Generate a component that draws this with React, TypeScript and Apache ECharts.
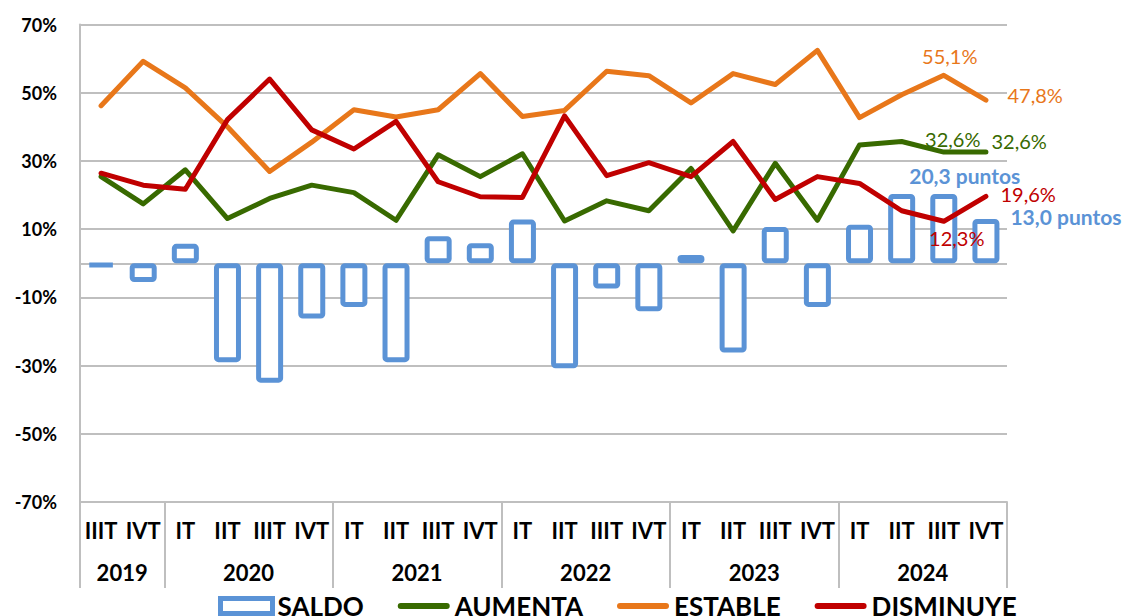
import React, { useEffect, useRef } from "react";
import * as echarts from "echarts";

const quarterLabels = [
  "IIIT", "IVT",
  "IT", "IIT", "IIIT", "IVT",
  "IT", "IIT", "IIIT", "IVT",
  "IT", "IIT", "IIIT", "IVT",
  "IT", "IIT", "IIIT", "IVT",
  "IT", "IIT", "IIIT", "IVT",
];
const years = ["2019", "2020", "2021", "2022", "2023", "2024"];
const quartersPerYear = [2, 4, 4, 4, 4, 4];
const yTicks = ["-70%", "-50%", "-30%", "-10%", "10%", "30%", "50%", "70%"];

const saldo = [-1.0, -5.5, 5.7, -29.0, -35.0, -16.2, -12.8, -29.0, 7.9, 5.9, 12.8, -30.8, -7.4, -14.1, 2.4, -26.2, 10.6, -12.8, 11.3, 20.3, 20.3, 13.0];
const aumenta = [25.4, 17.4, 27.4, 13.1, 19.0, 22.9, 20.7, 12.6, 31.8, 25.4, 32.1, 12.4, 18.3, 15.4, 27.8, 9.5, 29.3, 12.6, 34.7, 35.7, 32.6, 32.6];
const estable = [46.2, 59.2, 51.4, 40.0, 26.9, 35.5, 45.0, 42.9, 45.0, 55.6, 43.0, 44.8, 56.3, 55.0, 47.0, 55.6, 52.4, 62.4, 42.7, 49.4, 55.1, 47.8];
const disminuye = [26.4, 22.9, 21.7, 42.1, 54.0, 39.1, 33.5, 41.6, 23.9, 19.5, 19.3, 43.2, 25.7, 29.5, 25.4, 35.7, 18.7, 25.4, 23.4, 15.4, 12.3, 19.6];

const BLUE = "#5B93D6";
const GREEN = "#386A00";
const ORANGE = "#E8771A";
const RED = "#C00000";
const GRID = "#BFBFBF";
const FONT = "Lato";

const fmt = (v: number) => v.toFixed(1).replace(".", ",");

const LINE_ICON = "path://M0,0M52,15M3,4.5L49,4.5A3,3,0,0,1,49,10.5L3,10.5A3,3,0,0,1,3,4.5Z";

export default function App() {
  const ref = useRef<HTMLDivElement>(null);
  useEffect(() => {
    if (!ref.current) return;
    const chart = echarts.init(ref.current, null, { renderer: "svg" });

    const boundaries: number[] = [0];
    const centers: number[] = [];
    quartersPerYear.forEach((n) => {
      const start = boundaries[boundaries.length - 1];
      centers.push(start + n / 2);
      boundaries.push(start + n);
    });
    const total = boundaries[boundaries.length - 1];

    const labelFor = (
      series: number[],
      idx: number,
      position: string,
      offset: number[],
      color: string,
      text: string
    ) => ({
      value: series[idx],
      label: {
        show: true,
        position,
        offset,
        color,
        fontFamily: FONT,
        fontSize: 20,
        formatter: () => text,
      },
    });

    const lineData = (series: number[], labels: Record<number, any>) =>
      series.map((v, i) => (labels[i] ? labels[i] : v));

    const saldoData = saldo.map((v, i) => {
      if (i === saldo.length - 2)
        return {
          value: v,
          label: {
            show: true, position: "top", offset: [21, -3], color: BLUE, fontFamily: FONT,
            fontSize: 21, fontWeight: "bold", formatter: () => fmt(v) + " puntos",
          },
        };
      if (i === saldo.length - 1)
        return {
          value: v,
          label: {
            show: true, position: "right", offset: [6, -25], color: BLUE, fontFamily: FONT,
            fontSize: 21, fontWeight: "bold", formatter: () => fmt(v) + " puntos",
          },
        };
      return v;
    });

    const n = quarterLabels.length;
    const lineCommon = {
      type: "line",
      symbol: "circle",
      symbolSize: 1,
      showSymbol: true,
      showAllSymbol: true,
      xAxisIndex: 0,
      yAxisIndex: 0,
      z: 3,
    };

    chart.setOption({
      animation: false,
      backgroundColor: "#ffffff",
      textStyle: { fontFamily: FONT },
      grid: { left: 80, right: 123, top: 24.5, bottom: 114, containLabel: false },
      legend: {
        left: 213,
        top: 588,
        itemWidth: 52,
        itemHeight: 15,
        itemGap: 34,
        textStyle: { fontFamily: FONT, fontSize: 26, fontWeight: "bold", color: "#000" },
        data: [
          { name: "SALDO", icon: "rect", itemStyle: { color: "#ffffff", borderColor: BLUE, borderWidth: 5 } },
          { name: "AUMENTA", icon: LINE_ICON, itemStyle: { color: GREEN, borderWidth: 0 } },
          { name: "ESTABLE", icon: LINE_ICON, itemStyle: { color: ORANGE, borderWidth: 0 } },
          { name: "DISMINUYE", icon: LINE_ICON, itemStyle: { color: RED, borderWidth: 0 } },
        ],
      },
      xAxis: [
        {
          type: "category",
          data: quarterLabels,
          position: "bottom",
          boundaryGap: true,
          axisLine: { show: true, onZero: false, lineStyle: { color: GRID, width: 2 } },
          axisTick: { show: false },
          axisLabel: {
            interval: 0, margin: 17, color: "#000", fontFamily: FONT,
            fontSize: 22, fontWeight: "bold",
          },
          splitLine: { show: false },
        },
        {
          type: "value",
          min: 0,
          max: total,
          position: "bottom",
          axisLine: { show: false, onZero: false },
          splitLine: { show: false },
          axisTick: {
            show: true, length: 86, customValues: boundaries,
            lineStyle: { color: GRID, width: 2 },
          },
          axisLabel: {
            show: true, margin: 59, customValues: centers, color: "#000",
            fontFamily: FONT, fontSize: 22, fontWeight: "bold",
            formatter: (v: number) => {
              const k = centers.indexOf(v);
              return k >= 0 ? years[k] : "";
            },
          },
        },
      ],
      yAxis: {
        type: "value",
        min: -70,
        max: 70,
        interval: 20,
        axisLine: { show: true, lineStyle: { color: GRID, width: 2 } },
        axisTick: { show: false },
        splitLine: { show: true, lineStyle: { color: GRID, width: 2 } },
        axisLabel: {
          margin: 23, color: "#000", fontFamily: FONT, fontSize: 18, fontWeight: "bold",
          formatter: (v: number) => {
            const s = Math.round(v) + "%";
            return yTicks.indexOf(s) >= 0 ? s : "";
          },
        },
      },
      series: [
        {
          name: "SALDO",
          type: "bar",
          xAxisIndex: 0,
          yAxisIndex: 0,
          barWidth: 27,
          data: saldoData,
          itemStyle: { color: "#ffffff", borderColor: BLUE, borderWidth: 5, borderRadius: 2 },
          z: 2,
          markLine: {
            silent: true,
            symbol: ["none", "none"],
            label: { show: false },
            lineStyle: { color: GRID, width: 2, type: "solid" },
            data: [{ yAxis: 0 }],
            z: 2,
          },
        },
        {
          ...lineCommon,
          name: "AUMENTA",
          data: lineData(aumenta, {
            [n - 2]: labelFor(aumenta, n - 2, "top", [9, 2], GREEN, fmt(aumenta[n - 2]) + "%"),
            [n - 1]: labelFor(aumenta, n - 1, "right", [0, -11], GREEN, fmt(aumenta[n - 1]) + "%"),
          }),
          itemStyle: { color: GREEN },
          lineStyle: { color: GREEN, width: 5, cap: "round", join: "round" },
        },
        {
          ...lineCommon,
          name: "ESTABLE",
          data: lineData(estable, {
            [n - 2]: labelFor(estable, n - 2, "top", [6, -4], ORANGE, fmt(estable[n - 2]) + "%"),
            [n - 1]: labelFor(estable, n - 1, "right", [16, -5], ORANGE, fmt(estable[n - 1]) + "%"),
          }),
          itemStyle: { color: ORANGE },
          lineStyle: { color: ORANGE, width: 5, cap: "round", join: "round" },
        },
        {
          ...lineCommon,
          name: "DISMINUYE",
          data: lineData(disminuye, {
            [n - 2]: labelFor(disminuye, n - 2, "bottom", [13, 1], RED, fmt(disminuye[n - 2]) + "%"),
            [n - 1]: labelFor(disminuye, n - 1, "right", [9, -2], RED, fmt(disminuye[n - 1]) + "%"),
          }),
          itemStyle: { color: RED },
          lineStyle: { color: RED, width: 5, cap: "round", join: "round" },
        },
      ],
    });
    return () => chart.dispose();
  }, []);
  return (
    <div
      ref={ref}
      style={{ position: "absolute", left: 0, top: 0, width: 1130, height: 616 }}
    />
  );
}
